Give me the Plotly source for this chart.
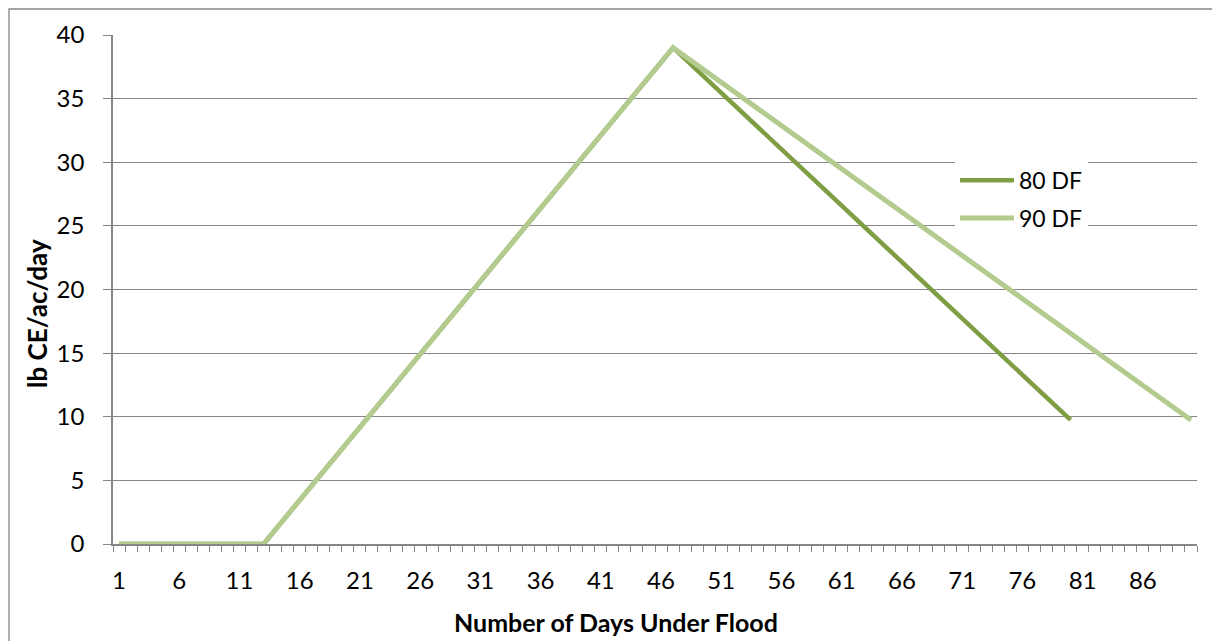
import plotly.graph_objects as go

# Data (breakpoints of straight-line segments)
days_80 = [1, 13, 47, 80]
vals_80 = [0, 0, 39, 9.75]
days_90 = [1, 13, 47, 90]
vals_90 = [0, 0, 39, 9.75]

x_tick_days = [1, 6, 11, 16, 21, 26, 31, 36, 41, 46, 51, 56, 61, 66, 71, 76, 81, 86]
y_ticks = [0, 5, 10, 15, 20, 25, 30, 35, 40]

series_names = ["80 DF", "90 DF"]
colors = ["#7F9E44", "#B3CB8E"]
FONT = "Lato"
GRAY = "#868686"

PW, PH = 1084, 509  # plot area size in px
ML, MT = 105, 27

fig = go.Figure()
fig.add_trace(go.Scatter(x=days_80, y=vals_80, mode="lines", name=series_names[0],
                         line=dict(color=colors[0], width=4.5), legendgroup="a"))
fig.add_trace(go.Scatter(x=days_90, y=vals_90, mode="lines", name=series_names[1],
                         line=dict(color=colors[1], width=5), legendgroup="b"))

fig.update_layout(
    width=1212, height=633,
    margin=dict(l=ML, r=1212 - ML - PW, t=MT, b=633 - MT - PH),
    paper_bgcolor="white", plot_bgcolor="white",
    font=dict(family=FONT, size=24, color="black"),
    showlegend=True,
    legend=dict(x=(955 - 113) / PW, y=0.757, xanchor="left", yanchor="top",
                bgcolor="white", borderwidth=0, font=dict(size=23, family=FONT),
                tracegroupgap=5, itemwidth=54),
    xaxis=dict(
        range=[0.5, 90.5], tickmode="array", tickvals=x_tick_days,
        ticktext=[str(d) for d in x_tick_days], ticks="", showgrid=False,
        showline=True, linecolor=GRAY, linewidth=1.5, zeroline=False,
        ticklabelstandoff=14,
        minor=dict(ticks="outside", ticklen=6, tickcolor=GRAY, tickwidth=1.3,
                   tick0=0.5, dtick=1, showgrid=False),
    ),
    yaxis=dict(
        range=[0, 40], tickmode="array", tickvals=y_ticks,
        ticks="outside", ticklen=8, tickcolor=GRAY, tickwidth=1.3,
        showgrid=True, gridcolor=GRAY, gridwidth=1.3,
        showline=True, linecolor=GRAY, linewidth=1.5, zeroline=False,
        ticklabelstandoff=14,
    ),
    shapes=[dict(type="rect", xref="paper", yref="paper",
                 x0=-(ML - 1) / PW, x1=1.1, y0=-0.3, y1=1 + (MT - 1) / PH,
                 line=dict(color=GRAY, width=1.3), fillcolor="rgba(0,0,0,0)", layer="below")],
    annotations=[
        dict(text="<b>Number of Days Under Flood</b>", xref="paper", yref="paper",
             x=(616 - 113) / PW, y=-(622 - 544) / PH, xanchor="center", yanchor="middle",
             showarrow=False, font=dict(family=FONT, size=25, color="black")),
        dict(text="<b>lb CE/ac/day</b>", xref="paper", yref="paper",
             x=-(113 - 37) / PW, y=1 - (314 - 35) / PH, xanchor="center", yanchor="middle",
             textangle=-90, showarrow=False, font=dict(family=FONT, size=26, color="black")),
    ],
)

fig.write_html("out.html")
